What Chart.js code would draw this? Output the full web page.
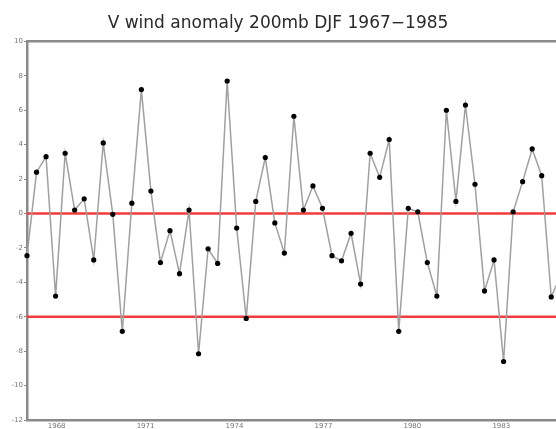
<!DOCTYPE html>
<html>
<head>
<meta charset="utf-8">
<script src="https://cdn.jsdelivr.net/npm/chart.js@4.4.0/dist/chart.umd.min.js"></script>
<style>
  html, body { margin: 0; padding: 0; background: #fff; overflow: hidden; }
  canvas { display: block; }
</style>
</head>
<body>
<canvas id="chart" width="556" height="429"></canvas>
<script>
// V wind anomaly values, one per sample
const values = [
  -2.45, 2.4, 3.3, -4.8, 3.5, 0.2, 0.85, -2.7, 4.1, -0.05,
  -6.85, 0.6, 7.2, 1.3, -2.85, -1.0, -3.5, 0.2, -8.15, -2.05,
  -2.9, 7.7, -0.85, -6.1, 0.7, 3.25, -0.55, -2.3, 5.65, 0.2,
  1.6, 0.3, -2.45, -2.75, -1.15, -4.1, 3.5, 2.1, 4.3, -6.85,
  0.3, 0.1, -2.85, -4.8, 6.0, 0.7, 6.3, 1.7, -4.5, -2.7,
  -8.6, 0.1, 1.85, 3.75, 2.2, -4.85, -3.6
];

const tickYears = [1968, 1971, 1974, 1977, 1980, 1983];
const yTicks = [10, 8, 6, 4, 2, 0, -2, -4, -6, -8, -10, -12];
const refLevels = [0, -6];

const firstYear = 1967;
const samplesPerYear = 3.11; // axis spacing of year ticks in sample units
const xMax = 55.5;

const points = values.map((v, i) => ({ x: i, y: v }));

const refDatasets = refLevels.map(level => ({
    data: [{ x: -1, y: level }, { x: 70, y: level }],
    borderColor: '#f03c3c',
    borderWidth: 2.5,
    pointRadius: 0,
    order: 2
}));

new Chart(document.getElementById('chart').getContext('2d'), {
    type: 'line',
    data: {
        datasets: [
            ...refDatasets,
            {
                data: points,
                borderColor: '#a0a0a0',
                borderWidth: 1.5,
                pointRadius: 2.6,
                pointBackgroundColor: '#000',
                pointBorderColor: '#000',
                pointBorderWidth: 0,
                tension: 0,
                clip: { left: 6, right: 0, top: 6, bottom: 6 },
                order: 1
            }
        ]
    },
    options: {
        responsive: false,
        animation: false,
        layout: { padding: 0, autoPadding: false },
        plugins: {
            legend: { display: false },
            tooltip: { enabled: false },
            title: {
                display: true,
                text: 'V wind anomaly 200mb DJF 1967\u22121985',
                color: '#2a2a2a',
                font: { family: 'DejaVu Sans', size: 17, weight: 'normal' },
                padding: { top: 13, bottom: 8 }
            }
        },
        scales: {
            x: {
                type: 'linear',
                min: 0,
                max: xMax,
                afterBuildTicks: scale => {
                    scale.ticks = tickYears.map(y => ({ value: (y - firstYear) * samplesPerYear, label: String(y) }));
                },
                afterFit: scale => { scale.height = 9; },
                grid: { drawOnChartArea: false, tickLength: 2, tickColor: '#888' },
                border: { color: '#8a8a8a', width: 2.5 },
                ticks: {
                    color: '#777',
                    font: { family: 'DejaVu Sans', size: 7 },
                    padding: 0,
                    maxRotation: 0,
                    autoSkip: false,
                    callback: (v, i, ticks) => ticks[i].label
                }
            },
            x2: {
                type: 'linear',
                position: 'top',
                display: true,
                min: 0,
                max: xMax,
                afterFit: scale => { scale.height = 0; },
                grid: { display: false, drawTicks: false },
                border: { color: '#8a8a8a', width: 2.5 },
                ticks: { display: false }
            },
            y: {
                min: -12,
                max: 10,
                afterBuildTicks: scale => {
                    scale.ticks = yTicks.map(v => ({ value: v }));
                },
                afterFit: scale => { scale.width = 27; },
                grid: { drawOnChartArea: false, tickLength: 3, tickColor: '#888' },
                border: { color: '#8a8a8a', width: 2.5 },
                ticks: {
                    color: '#777',
                    font: { family: 'DejaVu Sans', size: 7 },
                    padding: 1
                }
            }
        }
    }
});
</script>
</body>
</html>
